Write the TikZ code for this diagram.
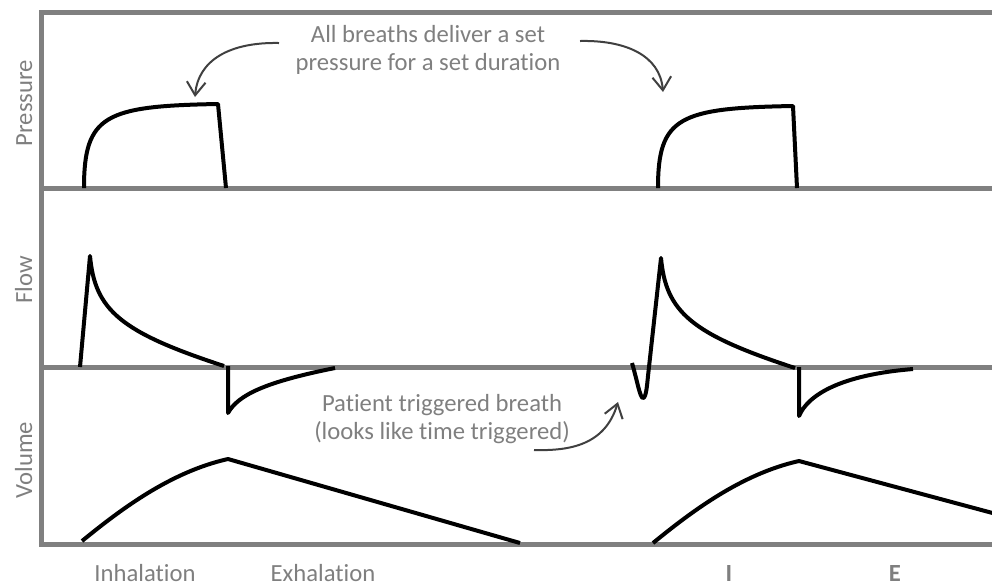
\documentclass[tikz,border=0pt]{standalone}
\usepackage{fontspec}
\setmainfont{Carlito}[Ligatures=NoCommon]
\usepackage{xcolor}
\usepackage{tikz}
\usetikzlibrary{arrows.meta}

\definecolor{lblgray}{RGB}{127,127,127}
\definecolor{axisgray}{RGB}{128,128,128}
\definecolor{notegray}{RGB}{64,64,64}

\begin{document}
\begin{tikzpicture}[x=0.75pt,y=0.75pt,yscale=-1,xscale=1,
  axisline/.style={draw=axisgray, line width=3.75pt},
  trace/.style={draw=black, line width=3pt, line join=round},
  callout/.style={draw=notegray, line width=1.5pt, -{Straight Barb[length=10pt,width=14pt]}},
  lbl/.style={text=lblgray, inner sep=0pt, font=\fontsize{18.5}{21}\selectfont}]
\useasboundingbox (0,0) rectangle (992,587);

%Straight Lines [frame]
\draw [axisline] (996,12) -- (41,12) -- (41,544) -- (996,544) ;
%Straight Lines [pressure / flow]
\draw [axisline] (41,188) -- (996,188) ;
%Straight Lines [flow / volume]
\draw [axisline] (41,367) -- (996,367) ;

%Shape: Free Drawing [pressure, breath 1]
\draw [trace] (84,188) .. controls (84,115) and (105,106) .. (218,104) -- (226,188) ;
%Shape: Free Drawing [pressure, breath 2]
\draw [trace] (658,188) .. controls (658,117) and (679,108) .. (793,106) -- (797,188) ;

%Shape: Free Drawing [flow, breath 1]
\draw [trace] (80,367) -- (90,256) .. controls (95,310) and (120,332) .. (224,366) ;
\draw [trace] (228,366) -- (228,413) .. controls (238,395) and (265,382) .. (335,368) ;
%Shape: Free Drawing [flow, breath 2]
\draw [trace] (632,363) .. controls (637,380) and (640,398) .. (643,398) .. controls (646,398) and (647,386) .. (648,376) -- (661,258) .. controls (666,312) and (691,334) .. (795,368) ;
\draw [trace] (799,367) -- (799,416) .. controls (808,395) and (840,375) .. (913,369) ;

%Shape: Free Drawing [volume, breath 1]
\draw [trace] (82,541) .. controls (120,510) and (170,472) .. (228,459) -- (520,543) ;
%Shape: Free Drawing [volume, breath 2]
\draw [trace] (653,543) .. controls (691,512) and (741,474) .. (799,461) -- (1000,515) ;

% Text Node
\node (lblPressure) [lbl, rotate=90, anchor=base] at (32,103) {Pressure};
% Text Node
\node (lblFlow) [lbl, rotate=90, anchor=base] at (32,280) {Flow};
% Text Node
\node (lblVolume) [lbl, rotate=90, anchor=base] at (32,460) {Volume};

% Text Node
\node (noteSet) [lbl, align=center] at (428,50) {All breaths deliver a set\\pressure for a set duration};
% Text Node
\node (noteTrig) [lbl, align=center] at (442,419) {Patient triggered breath\\(looks like time triggered)};

% Text Node
\node (lblInh) [lbl, anchor=base] at (145,581) {Inhalation};
% Text Node
\node (lblExh) [lbl, anchor=base] at (323,581) {Exhalation};
% Text Node
\node (lblI) [lbl, anchor=base, font=\fontsize{18.5}{21}\selectfont\bfseries] at (729,581) {I};
% Text Node
\node (lblE) [lbl, anchor=base, font=\fontsize{18.5}{21}\selectfont\bfseries] at (895,581) {E};

%Curve Lines [callouts]
\coordinate (setL0) at (279,43) ;
\coordinate (setL1) at (195,97) ;
\draw [callout] (setL0) .. controls (230,42) and (198,60) .. (setL1) ;
\coordinate (setR0) at (580,41) ;
\coordinate (setR1) at (663,92) ;
\draw [callout] (setR0) .. controls (625,40) and (660,55) .. (setR1) ;
\coordinate (trig0) at (534,450) ;
\coordinate (trig1) at (618,402) ;
\draw [callout] (trig0) .. controls (570,451) and (605,445) .. (trig1) ;

\end{tikzpicture}
\end{document}
